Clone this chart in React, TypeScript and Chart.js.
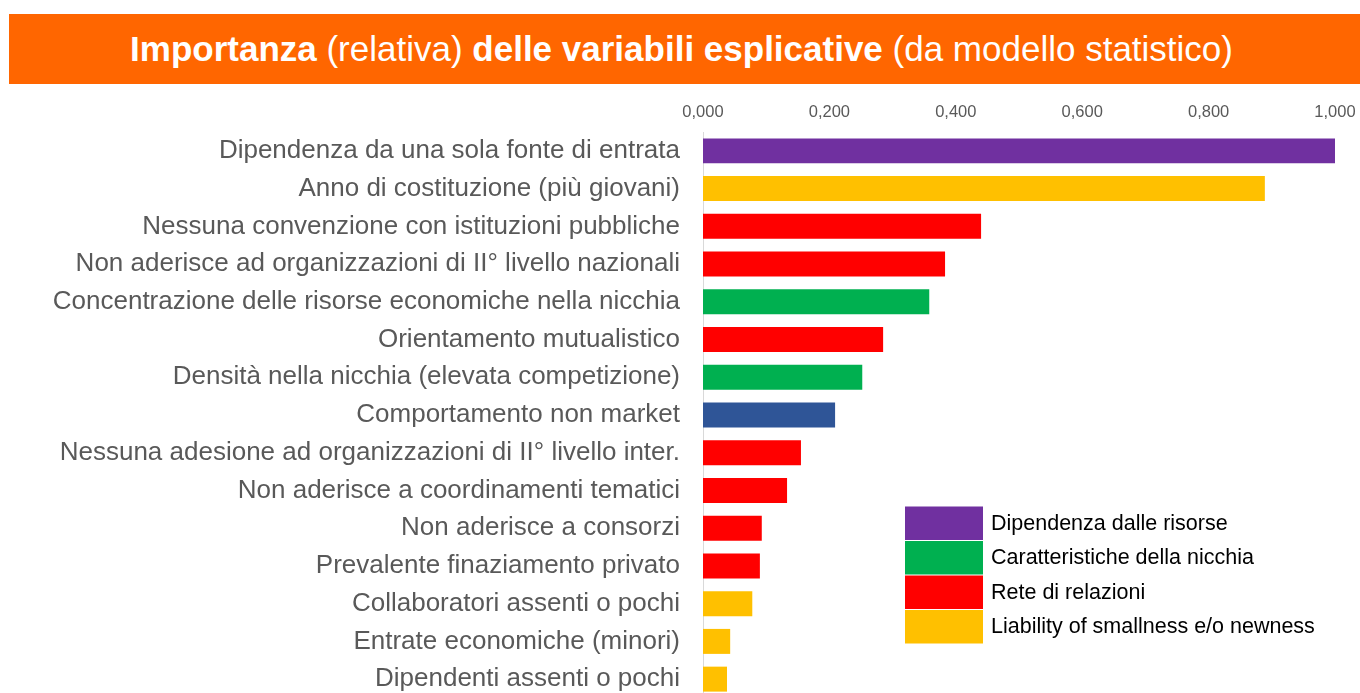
import React, { useEffect, useRef } from 'react';
import { Chart, registerables } from 'chart.js';

Chart.register(...registerables);

const titleBold1 = 'Importanza';
const titleNormal1 = ' (relativa) ';
const titleBold2 = 'delle variabili esplicative';
const titleNormal2 = ' (da modello statistico)';

const categories = [
  'Dipendenza da una sola fonte di entrata',
  'Anno di costituzione (più giovani)',
  'Nessuna convenzione con istituzioni pubbliche',
  'Non aderisce ad organizzazioni di II° livello nazionali',
  'Concentrazione delle risorse economiche nella nicchia',
  'Orientamento mutualistico',
  'Densità nella nicchia (elevata competizione)',
  'Comportamento non market',
  'Nessuna adesione ad organizzazioni di II° livello inter.',
  'Non aderisce a coordinamenti tematici',
  'Non aderisce a consorzi',
  'Prevalente finaziamento privato',
  'Collaboratori assenti o pochi',
  'Entrate economiche (minori)',
  'Dipendenti assenti o pochi',
];

const values = [1.0, 0.889, 0.44, 0.383, 0.358, 0.285, 0.252, 0.209, 0.155, 0.133, 0.093, 0.09, 0.078, 0.043, 0.038];

// group of each category
const groups = [
  'risorse', 'liability', 'rete', 'rete', 'nicchia', 'rete', 'nicchia', 'market',
  'rete', 'rete', 'rete', 'rete', 'liability', 'liability', 'liability',
];

const groupKeys = ['risorse', 'nicchia', 'rete', 'liability', 'market'];
const groupColors = ['#7030A0', '#00B050', '#FF0000', '#FFC000', '#2F5597'];
const legendLabels = [
  'Dipendenza dalle risorse',
  'Caratteristiche della nicchia',
  'Rete di relazioni',
  'Liability of smallness e/o newness',
];

const FONT = '"Liberation Sans", Arial, Helvetica, sans-serif';

const legendPlugin = {
  id: 'boxLegend',
  afterDraw(chart: any) {
    const { ctx, chartArea } = chart;
    const left = chartArea.left + 202;
    const top = chartArea.top + 374.5;
    const boxW = 78;
    const rowH = 34.5;
    ctx.save();
    legendLabels.forEach((label, i) => {
      const y = top + i * rowH;
      ctx.fillStyle = groupColors[i];
      ctx.fillRect(left, y, boxW, rowH - 1);
      ctx.fillStyle = '#000000';
      ctx.font = `21.5px ${FONT}`;
      ctx.textBaseline = 'middle';
      ctx.textAlign = 'left';
      ctx.fillText(label, left + boxW + 8, y + rowH / 2);
    });
    ctx.restore();
  },
};

export default function App() {
  const canvasRef = useRef<HTMLCanvasElement | null>(null);

  useEffect(() => {
    document.body.style.margin = '0';
    const canvas = canvasRef.current;
    if (!canvas) return;
    const colors = groups.map((g) => groupColors[groupKeys.indexOf(g)]);
    const chart = new Chart(canvas, {
      type: 'bar',
      data: {
        labels: categories,
        datasets: [
          {
            data: values,
            backgroundColor: colors,
            borderWidth: 0,
            barPercentage: 0.662,
            categoryPercentage: 1,
          },
        ],
      },
      options: {
        indexAxis: 'y',
        animation: false,
        responsive: false,
        maintainAspectRatio: false,
        layout: { padding: { top: 1.2, bottom: 2, left: 0, right: 25 } },
        plugins: {
          legend: { display: false },
          tooltip: { enabled: false },
          title: { display: false },
        },
        scales: {
          x: {
            position: 'top',
            min: 0,
            max: 1,
            grid: { display: false, drawTicks: false },
            border: { display: false },
            ticks: {
              stepSize: 0.2,
              padding: 10,
              color: '#595959',
              font: { family: FONT, size: 16.5 },
              callback: (v: any) => Number(v).toFixed(3).replace('.', ','),
            },
            afterFit: (scale: any) => {
              scale.paddingLeft = 0;
              scale.paddingRight = 0;
            },
          },
          y: {
            grid: { display: false, drawTicks: false },
            border: { display: true, color: '#D9D9D9', width: 1 },
            ticks: {
              padding: 23,
              color: '#595959',
              font: { family: FONT, size: 26 },
              autoSkip: false,
            },
            afterFit: (scale: any) => {
              scale.width = 703;
              scale.paddingTop = 0;
              scale.paddingBottom = 0;
            },
          },
        },
      },
      plugins: [legendPlugin],
    });
    return () => chart.destroy();
  }, []);

  return (
    <div
      style={{
        position: 'fixed',
        left: 0,
        top: 0,
        width: 1360,
        height: 693,
        overflow: 'hidden',
        background: '#ffffff',
      }}
    >
      <div
        style={{
          position: 'absolute',
          left: 9,
          top: 14,
          width: 1351,
          height: 70,
          background: '#FF6600',
          color: '#ffffff',
          fontFamily: FONT,
          fontSize: 35,
          display: 'flex',
          alignItems: 'center',
          justifyContent: 'center',
          whiteSpace: 'pre',
          paddingRight: 6,
          boxSizing: 'border-box',
        }}
      >
        <span style={{ fontWeight: 'bold' }}>{titleBold1}</span>
        <span>{titleNormal1}</span>
        <span style={{ fontWeight: 'bold' }}>{titleBold2}</span>
        <span>{titleNormal2}</span>
      </div>
      <canvas
        ref={canvasRef}
        width={1360}
        height={609}
        style={{ position: 'absolute', left: 0, top: 91, width: 1360, height: 609 }}
      />
    </div>
  );
}
